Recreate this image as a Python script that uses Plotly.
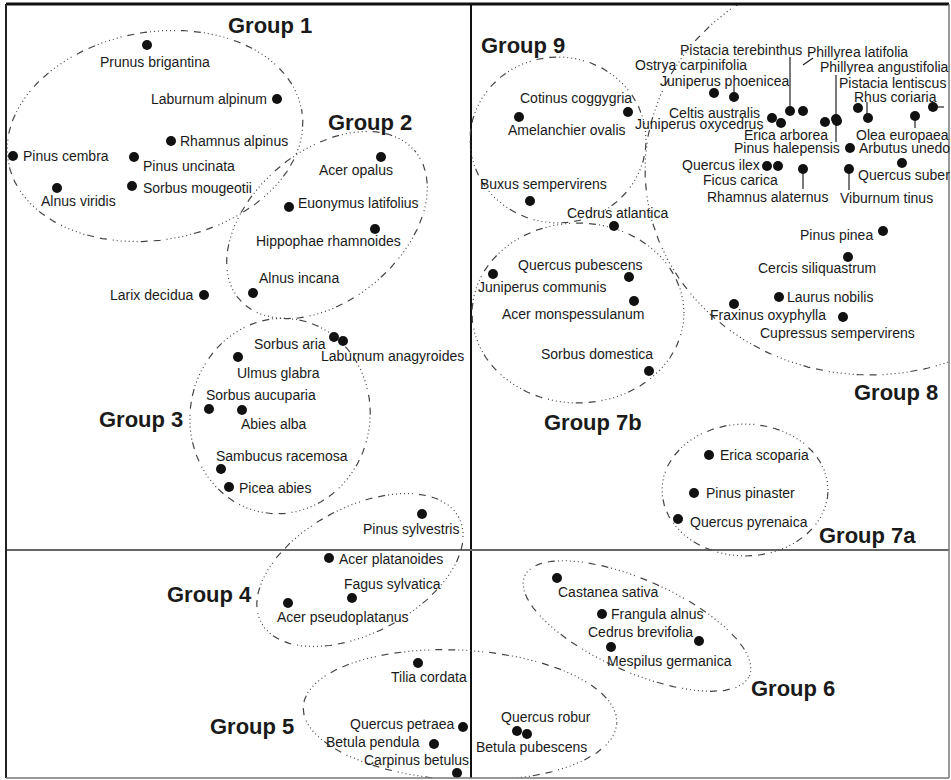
import numpy as np
import plotly.graph_objects as go

# ---------------- DATA (ordination scores, axis 1 / axis 2) ----------------
species = [
    "Prunus brigantina", "Laburnum alpinum", "Rhamnus alpinus", "Pinus cembra",
    "Pinus uncinata", "Sorbus mougeotii", "Alnus viridis",
    "Acer opalus", "Euonymus latifolius", "Hippophae rhamnoides", "Alnus incana",
    "Larix decidua",
    "Sorbus aria", "Laburnum anagyroides", "Ulmus glabra", "Sorbus aucuparia",
    "Abies alba", "Sambucus racemosa", "Picea abies",
    "Pinus sylvestris", "Acer platanoides", "Fagus sylvatica", "Acer pseudoplatanus",
    "Tilia cordata", "Quercus petraea", "Betula pendula", "Carpinus betulus",
    "Cotinus coggygria", "Amelanchier ovalis", "Buxus sempervirens",
    "Cedrus atlantica",
    "Quercus pubescens", "Juniperus communis", "Acer monspessulanum", "Sorbus domestica",
    "Ostrya carpinifolia", "Juniperus phoenicea", "Pistacia terebinthus",
    "Phillyrea latifolia", "Celtis australis", "Juniperus oxycedrus", "Erica arborea",
    "Phillyrea angustifolia", "Pinus halepensis", "Arbutus unedo", "Pistacia lentiscus",
    "Rhus coriaria", "Olea europaea", "", "Quercus ilex", "Ficus carica",
    "Rhamnus alaternus", "Viburnum tinus", "Quercus suber", "Pinus pinea",
    "Cercis siliquastrum", "Laurus nobilis", "Fraxinus oxyphylla", "Cupressus sempervirens",
    "Erica scoparia", "Pinus pinaster", "Quercus pyrenaica",
    "Castanea sativa", "Frangula alnus", "Cedrus brevifolia", "Mespilus germanica",
    "Quercus robur", "Betula pubescens",
]
axis1 = [
    -324, -194, -300, -458, -337, -339, -414,
    -90, -182, -96, -218,
    -267,
    -137, -128, -233, -262, -229, -250, -242,
    -49, -142, -119, -183,
    -53, -8, -37, -14,
    157, 48, 59,
    143,
    158, 22, 163, 178,
    243, 263, 319, 332, 301, 310, 354, 365, 366, 379, 387, 397, 444, 462,
    296, 307, 332, 378, 431, 412, 377, 308, 263, 372,
    238, 223, 207,
    86, 131, 228, 140,
    46, 56,
]
axis2 = [
    505, 451, 409, 394, 393, 364, 362,
    393, 343, 321, 257,
    255,
    213, 209, 193, 141, 140, 81, 63,
    36, -8, -48, -53,
    -113, -177, -194, -223,
    438, 433, 349,
    324,
    273, 276, 249, 179,
    457, 453, 439, 439, 432, 427, 428, 431, 429, 402, 442, 432, 434, 443,
    384, 384, 381, 381, 387, 319, 293, 253, 246, 233,
    95, 57, 31,
    -28, -64, -91, -97,
    -181, -184,
]
group = (["1"] * 7 + ["2"] * 4 + [""] + ["3"] * 7 + ["4"] * 4 + ["5"] * 4
         + ["9"] * 3 + [""] + ["7b"] * 4 + ["8"] * 24 + ["7a"] * 3 + ["6"] * 4
         + ["5"] * 2)

group_names = ["Group 1", "Group 2", "Group 3", "Group 4", "Group 5",
               "Group 6", "Group 7a", "Group 7b", "Group 8", "Group 9"]

# ---------------- STYLE / LAYOUT TABLES ----------------
# label placement: name -> (xanchor, dx px, dy px (down positive))
label_pos = {
    "Prunus brigantina": ("center", 8, 17), "Laburnum alpinum": ("right", -8, 0),
    "Rhamnus alpinus": ("left", 7, 0), "Pinus cembra": ("left", 8, 0),
    "Pinus uncinata": ("left", 7, 9), "Sorbus mougeotii": ("left", 9, 2),
    "Alnus viridis": ("center", 21, 13),
    "Acer opalus": ("center", -25, 13), "Euonymus latifolius": ("left", 7, -4),
    "Hippophae rhamnoides": ("center", -47, 12), "Alnus incana": ("left", 4, -15),
    "Larix decidua": ("right", -9, 0),
    "Sorbus aria": ("right", -6, 7), "Laburnum anagyroides": ("left", -24, 15),
    "Ulmus glabra": ("left", -3, 16), "Sorbus aucuparia": ("left", -5, -14),
    "Abies alba": ("left", -3, 14), "Sambucus racemosa": ("left", -7, -13),
    "Picea abies": ("left", 8, 1),
    "Pinus sylvestris": ("center", -11, 15), "Acer platanoides": ("left", 8, 1),
    "Fagus sylvatica": ("center", 40, -14), "Acer pseudoplatanus": ("left", -13, 14),
    "Tilia cordata": ("center", 11, 14), "Quercus petraea": ("right", -7, -3),
    "Betula pendula": ("right", -12, -2), "Carpinus betulus": ("center", -41, -13),
    "Cotinus coggygria": ("center", -52, -14), "Amelanchier ovalis": ("center", 48, 13),
    "Buxus sempervirens": ("center", 13, -17), "Cedrus atlantica": ("center", 3, -13),
    "Quercus pubescens": ("center", -49, -12), "Juniperus communis": ("center", 49, 13),
    "Acer monspessulanum": ("center", -61, 13), "Sorbus domestica": ("center", -52, -17),
    "Ostrya carpinifolia": ("center", -23, -28), "Juniperus phoenicea": ("center", -10, -16),
    "Pistacia terebinthus": ("center", -49, -61), "Phillyrea latifolia": ("center", 54, -59),
    "Celtis australis": ("right", -10, -5), "Juniperus oxycedrus": ("right", -16, 1),
    "Erica arborea": ("center", -39, 13), "Phillyrea angustifolia": ("center", 48, -52),
    "Pinus halepensis": ("right", 5, 27), "Arbutus unedo": ("left", 7, 0),
    "Pistacia lentiscus": ("center", 34, -25), "Rhus coriaria": ("center", 27, -21),
    "Olea europaea": ("center", -13, 19),
    "Quercus ilex": ("right", -5, -1), "Ficus carica": ("center", -38, 14),
    "Rhamnus alaternus": ("center", -36, 28), "Viburnum tinus": ("center", 37, 29),
    "Quercus suber": ("center", 2, 12), "Pinus pinea": ("right", -8, 4),
    "Cercis siliquastrum": ("center", -31, 11), "Laurus nobilis": ("left", 6, 0),
    "Fraxinus oxyphylla": ("center", 34, 11), "Cupressus sempervirens": ("center", -6, 16),
    "Erica scoparia": ("left", 9, 0), "Pinus pinaster": ("left", 10, 0),
    "Quercus pyrenaica": ("left", 10, 3),
    "Castanea sativa": ("center", 51, 14), "Frangula alnus": ("left", 7, 0),
    "Cedrus brevifolia": ("center", -59, -9), "Mespilus germanica": ("center", 58, 14),
    "Quercus robur": ("center", 29, -14), "Betula pubescens": ("center", 4, 13),
}

# leader lines: name -> (dx0, dy0, dx1, dy1) px offsets from the point (dy down)
leaders = {
    "Juniperus phoenicea": (0, -11, 0, -4),
    "Pistacia terebinthus": (0, -54, 0, -5),
    "Phillyrea latifolia": (0, -46, 10, -53),
    "Phillyrea angustifolia": (0, -44, 0, -4),
    "Pinus halepensis": (-1, 4, -1, 21),
    "Rhus coriaria": (-1, -16, -1, -4),
    "Olea europaea": (0, 4, 0, 12),
    "Rhamnus alaternus": (0, 4, 0, 20),
    "Viburnum tinus": (0, 4, 0, 21),
    "": (4, 0, 11, 0),
}

# group label anchor positions (score space)
group_label_xy = {
    "Group 1": (-201, 525), "Group 2": (-101, 428), "Group 3": (-330, 131),
    "Group 4": (-262, -44), "Group 5": (-219, -176), "Group 6": (322, -138),
    "Group 7a": (396, 15), "Group 7b": (122, 128), "Group 8": (425, 158),
    "Group 9": (52, 505),
}

# group envelopes: center x, center y, semi-axis a, semi-axis b, rotation (deg)
envelopes = {
    "Group 1": (-316, 414, 149, 104, 10),
    "Group 2": (-144, 325, 115, 75, 40),
    "Group 3": (-191, 134, 98, 90, 80),
    "Group 4": (-111, -20, 112, 63, 28),
    "Group 5": (-11, -165, 157, 65, -3),
    "Group 6": (166, -76, 123, 46, -24),
    "Group 7a": (274, 60, 83, 66, 0),
    "Group 7b": (107, 237, 106, 90, 0),
    "Group 8": (399, 380, 225, 205, 0),
    "Group 9": (87, 410, 88, 83, 0),
}

FONT = "Liberation Sans, Arial, sans-serif"
DASH = "1px,3px,1px,3px,1px,3px,1px,3px,1px,3px,1px,3px,1px,3px,7px,6px,7px,6px"

fig = go.Figure()

# envelopes
t = np.linspace(0, 2 * np.pi, 361)
for name, (cx, cy, a, b, rot) in envelopes.items():
    r = np.deg2rad(rot)
    ex = cx + a * np.cos(t) * np.cos(r) - b * np.sin(t) * np.sin(r)
    ey = cy + a * np.cos(t) * np.sin(r) + b * np.sin(t) * np.cos(r)
    fig.add_trace(go.Scatter(x=ex, y=ey, mode="lines", hoverinfo="skip",
                             line=dict(color="#444444", width=1.2, dash=DASH),
                             showlegend=False))

# leader lines
for i, s in enumerate(species):
    if s in leaders:
        dx0, dy0, dx1, dy1 = leaders[s]
        fig.add_trace(go.Scatter(x=[axis1[i] + dx0, axis1[i] + dx1],
                                 y=[axis2[i] - dy0, axis2[i] - dy1],
                                 mode="lines", hoverinfo="skip",
                                 line=dict(color="#222222", width=1.2),
                                 showlegend=False))

# points
fig.add_trace(go.Scatter(x=axis1, y=axis2, mode="markers", text=species,
                         customdata=group,
                         marker=dict(color="#111111", size=10),
                         hovertemplate="%{text}<extra></extra>",
                         showlegend=False, cliponaxis=False))

annotations = []
for i, s in enumerate(species):
    if not s:
        continue
    anc, dx, dy = label_pos[s]
    annotations.append(dict(x=axis1[i], y=axis2[i], text=s, showarrow=False,
                            xanchor=anc, yanchor="middle", xshift=dx, yshift=-dy,
                            font=dict(family=FONT, size=14, color="#1a1a1a")))
for g in group_names:
    gx, gy = group_label_xy[g]
    annotations.append(dict(x=gx, y=gy, text="<b>" + g + "</b>", showarrow=False,
                            xanchor="center", yanchor="middle",
                            font=dict(family=FONT, size=22, color="#1a1a1a")))

# frame (paper coordinates)
shapes = [
    dict(type="line", xref="paper", yref="paper", x0=0, x1=1, y0=1, y1=1,
         line=dict(color="#111111", width=3)),
    dict(type="line", xref="paper", yref="paper", x0=0, x1=0, y0=0, y1=1,
         line=dict(color="#222222", width=2)),
    dict(type="line", xref="paper", yref="paper", x0=1, x1=1, y0=0, y1=1,
         line=dict(color="#777777", width=1.5)),
    dict(type="line", xref="paper", yref="paper", x0=0, x1=1, y0=0, y1=0,
         line=dict(color="#777777", width=1.5)),
]

fig.update_layout(
    width=951, height=780,
    margin=dict(l=6, r=2, t=4, b=2),
    paper_bgcolor="white", plot_bgcolor="white",
    xaxis=dict(range=[-465, 478], showgrid=False, showticklabels=False, ticks="",
               zeroline=True, zerolinecolor="#111111", zerolinewidth=2,
               showline=False, fixedrange=True),
    yaxis=dict(range=[-228, 546], showgrid=False, showticklabels=False, ticks="",
               zeroline=True, zerolinecolor="#666666", zerolinewidth=1.5,
               showline=False, fixedrange=True),
    annotations=annotations,
    shapes=shapes,
    showlegend=False,
)

fig.write_html("out.html", config={"displayModeBar": False},
               post_script="document.body.style.margin='0';"
                           "document.body.style.overflow='hidden';")
